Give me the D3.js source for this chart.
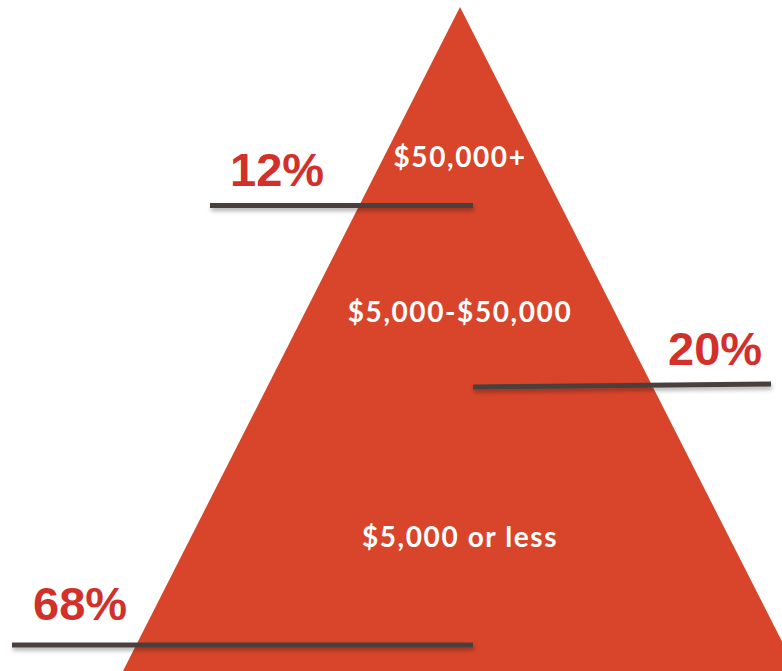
<!DOCTYPE html>
<html>
<head>
<meta charset="utf-8">
<script src="https://cdn.jsdelivr.net/npm/d3@7"></script>
<style>
  html, body { margin: 0; padding: 0; background: #fff; }
  svg { display: block; }
</style>
</head>
<body>
<svg id="chart" width="782" height="671"></svg>
<script>
// tiers, top to bottom
const categories = ["$50,000+", "$5,000-$50,000", "$5,000 or less"];
const shares = [12, 20, 68];
const labelSide = ["left", "right", "left"];

const width = 782, height = 671;
const svg = d3.select("#chart");

// vertical position inside the pyramid, 0 = apex, 1 = base
const y = d3.scaleLinear().domain([0, 1]).range([7, 671]);
// half width of the pyramid at a given depth
const halfW = d3.scaleLinear().domain([0, 1]).range([0, 337]);
const cx = 460;

const defs = svg.append("defs");
const f = defs.append("filter").attr("id", "shadow")
    .attr("x", "-5%").attr("y", "-200%").attr("width", "110%").attr("height", "500%");
f.append("feDropShadow")
    .attr("dx", 1).attr("dy", 3).attr("stdDeviation", 2)
    .attr("flood-color", "#000").attr("flood-opacity", 0.3);

svg.append("path")
    .attr("d", d3.line()([
      [cx, y(0)],
      [cx + halfW(1), y(1)],
      [cx - halfW(1), y(1)]
    ]) + "Z")
    .attr("fill", "#d9452a");

// depth of each divider line and category label
const lineDepth = [0.299, 0.57, 0.961];
const textDepth = [0.241, 0.474, 0.813];
const pctDepth = [0.27, 0.539, 0.923];

svg.append("g").selectAll("text")
    .data(categories)
    .join("text")
    .attr("x", cx)
    .attr("y", (d, i) => y(textDepth[i]))
    .attr("text-anchor", "middle")
    .attr("fill", "#fff")
    .style("font-family", "Lato, 'Open Sans', sans-serif")
    .style("font-weight", "bold")
    .style("font-size", "28px")
    .style("letter-spacing", "1.6px")
    .text(d => d);

const lines = svg.append("g").attr("filter", "url(#shadow)");
lines.selectAll("line")
    .data(shares)
    .join("line")
    .attr("x1", (d, i) => labelSide[i] === "left" ? (i === 0 ? 210 : 12) : 473)
    .attr("x2", (d, i) => labelSide[i] === "left" ? 473 : 771)
    .attr("y1", (d, i) => y(lineDepth[i]) + (labelSide[i] === "right" ? 1.5 : 0))
    .attr("y2", (d, i) => y(lineDepth[i]) - (labelSide[i] === "right" ? 1.5 : 0))
    .attr("stroke", "#4a413d")
    .attr("stroke-width", 5);

svg.append("g").selectAll("text")
    .data(shares)
    .join("text")
    .attr("x", (d, i) => labelSide[i] === "left" ? (i === 0 ? 230 : 33) : 668)
    .attr("y", (d, i) => y(pctDepth[i]))
    .attr("fill", "#d2302a")
    .style("font-family", "'Liberation Sans', Arial, sans-serif")
    .style("font-weight", "bold")
    .style("font-size", "47px")
    .text(d => d + "%");
</script>
</body>
</html>
